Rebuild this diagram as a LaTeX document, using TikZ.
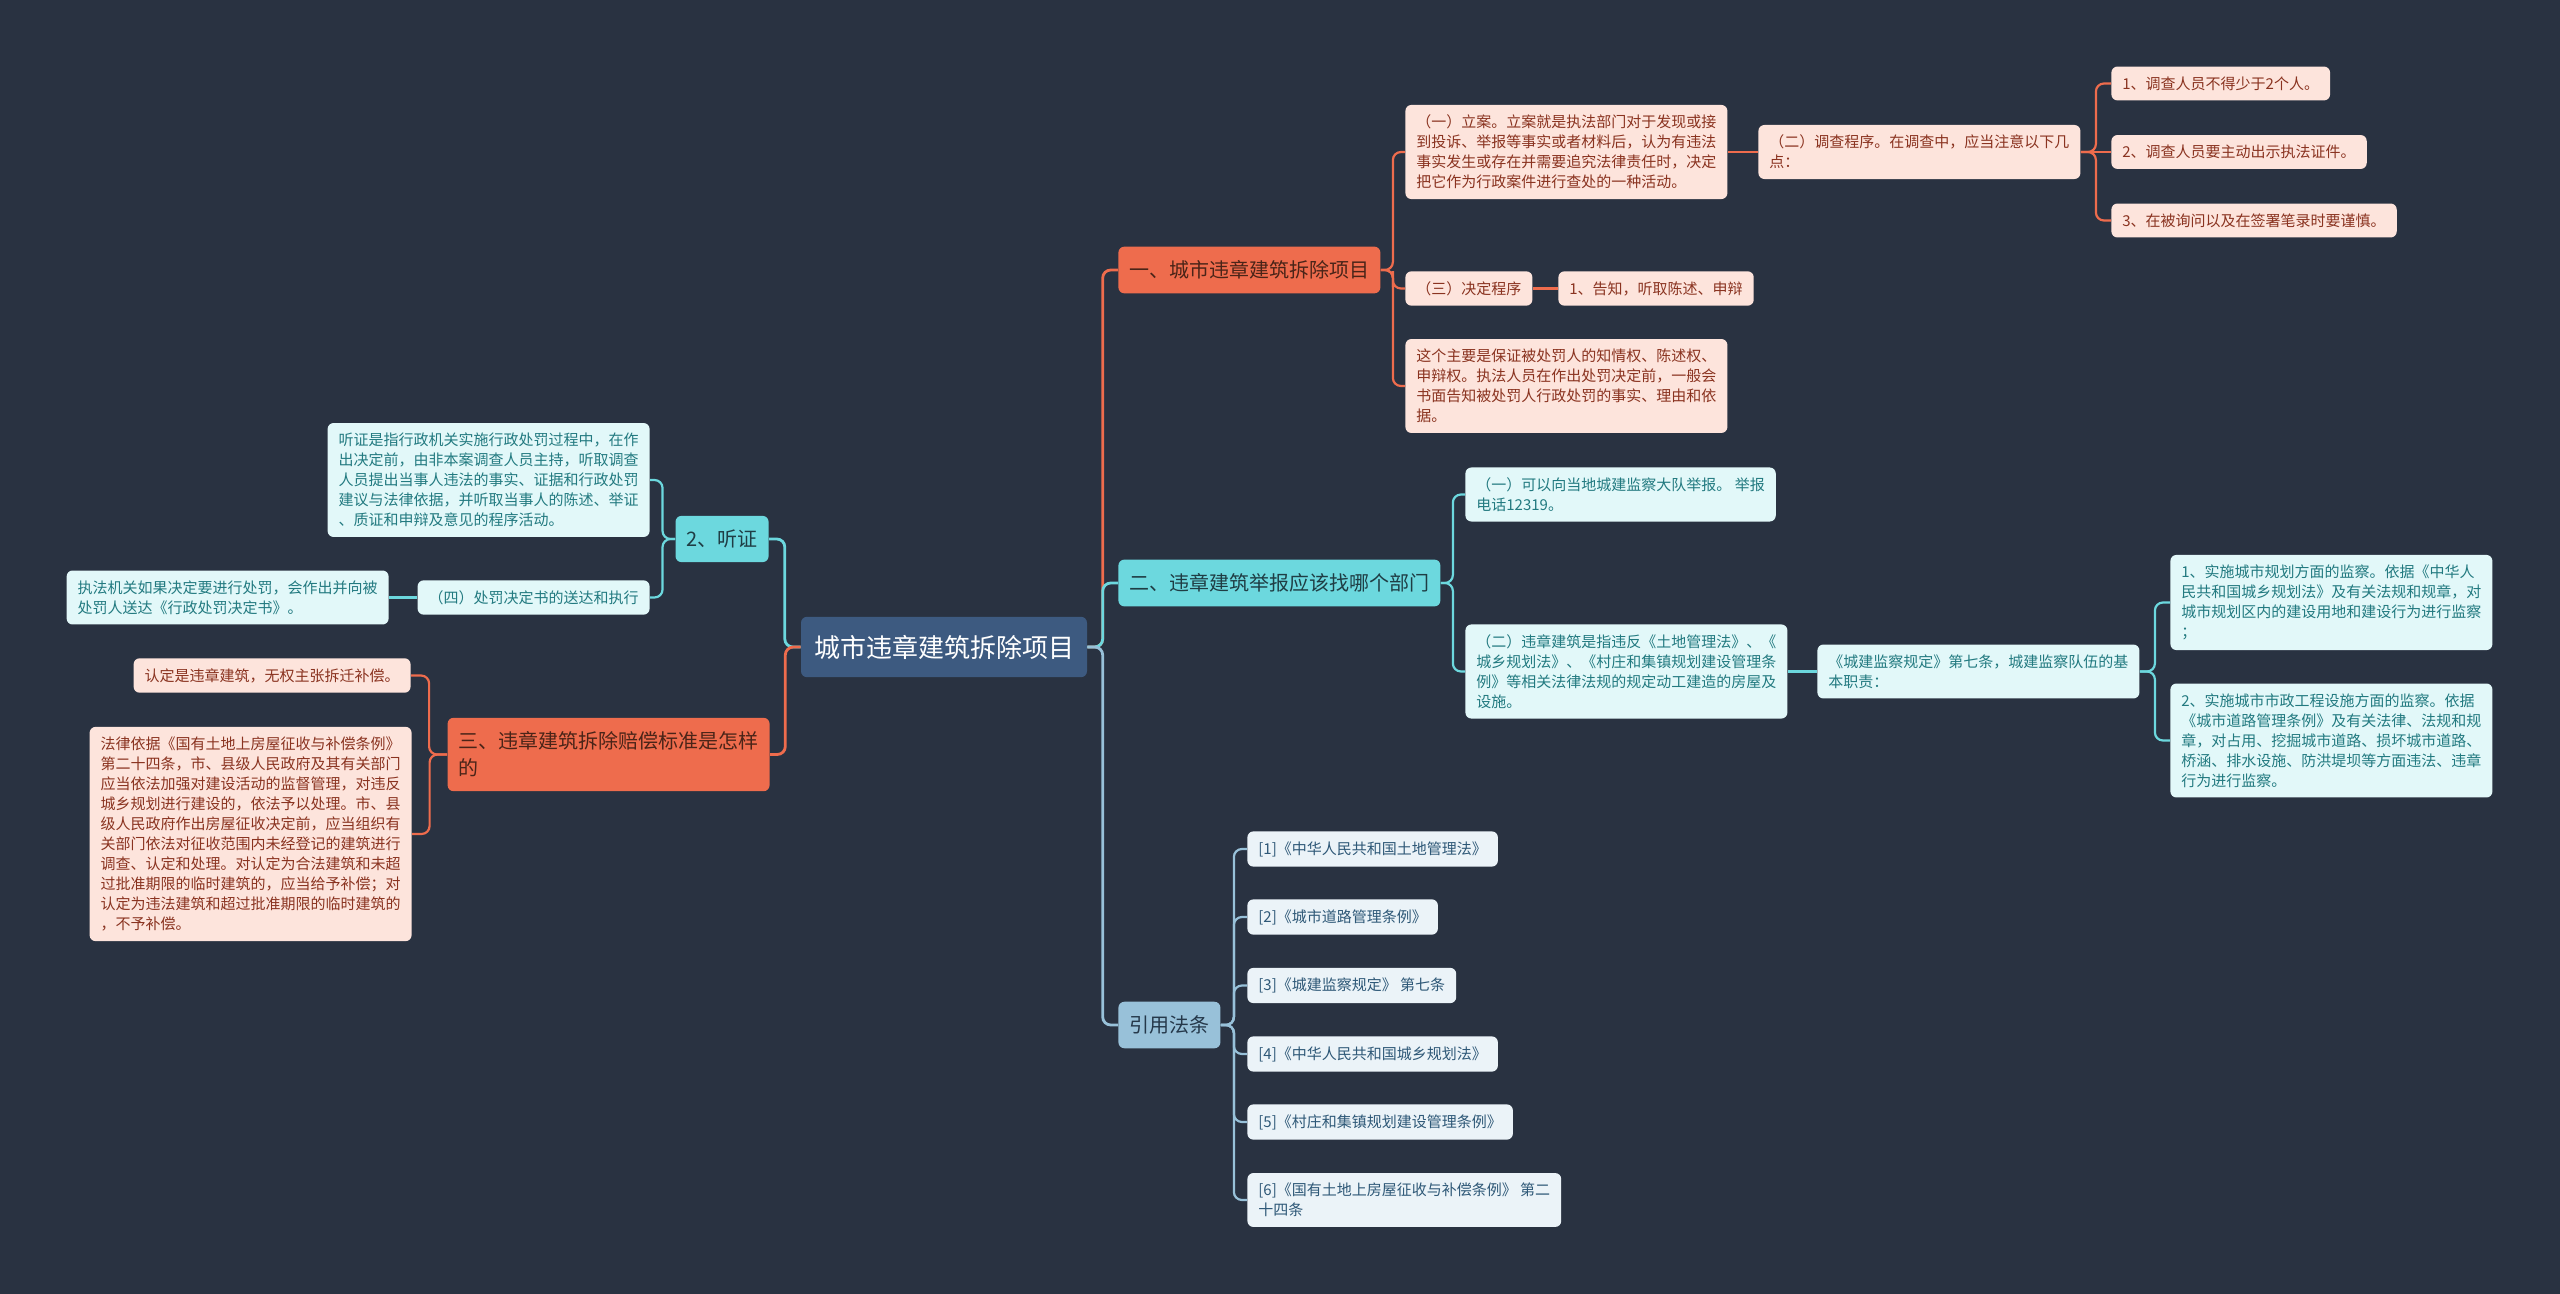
\documentclass[tikz,border=0pt]{standalone}
\usepackage{fontspec}
\setmainfont{Noto Sans CJK SC}
\usetikzlibrary{calc}
\definecolor{bgdark}{HTML}{293241}
\definecolor{rootblue}{HTML}{3D5A80}
\definecolor{sienna}{HTML}{EE6C4D}
\definecolor{siennatext}{HTML}{4A2418}
\definecolor{turq}{HTML}{6CD8DE}
\definecolor{turqtext}{HTML}{1F3D44}
\definecolor{paleblue}{HTML}{98C1D9}
\definecolor{paletext}{HTML}{25384A}
\definecolor{pinkfill}{HTML}{FDE4DC}
\definecolor{pinktext}{HTML}{8A3320}
\definecolor{cyanfill}{HTML}{E2F8F9}
\definecolor{cyantext}{HTML}{227A80}
\definecolor{bluefill}{HTML}{EBF3F8}
\definecolor{bluetext}{HTML}{2E5877}

\begin{document}
\begin{tikzpicture}[x=0.5pt,y=-0.5pt,
  every node/.style={rounded corners=3pt, align=left},
  rootbox/.style={fill=rootblue, text=white, font=\fontsize{13pt}{16pt}\selectfont, inner xsep=6.5pt, inner ysep=9pt},
  topbox/.style={font=\fontsize{10pt}{13.5pt}\selectfont, inner xsep=5.5pt, inner ysep=7pt},
  orangebox/.style={topbox, fill=sienna, text=siennatext},
  cyanbox/.style={topbox, fill=turq, text=turqtext},
  bluebox/.style={topbox, fill=paleblue, text=paletext},
  leaf/.style={font=\fontsize{7.5pt}{10pt}\selectfont, inner xsep=5.5pt, inner ysep=5pt},
  pinkleaf/.style={leaf, fill=pinkfill, text=pinktext},
  cyanleaf/.style={leaf, fill=cyanfill, text=cyantext},
  blueleaf/.style={leaf, fill=bluefill, text=bluetext},
  link/.style={line width=1.1pt, rounded corners=4pt},
  rootlink/.style={line width=1.4pt, rounded corners=4pt}]
\useasboundingbox (0,0) rectangle (2560,1294);
\fill[bgdark] (0,0) rectangle (2560,1294);

% main topic
\node[rootbox] (root) at (944,647) {城市违章建筑拆除项目};

% right branches
\node[orangebox, anchor=west] (A) at (1118,270) {一、城市违章建筑拆除项目};
\node[cyanbox, anchor=west] (B) at (1118,583) {二、违章建筑举报应该找哪个部门};
\node[bluebox, anchor=west] (C) at (1118,1025) {引用法条};

% left branches
\node[cyanbox, anchor=east] (D) at (769,539) {2、听证};
\node[orangebox, anchor=east] (E) at (770,754.5) {三、违章建筑拆除赔偿标准是怎样\\的};

% under A
\node[pinkleaf, anchor=west] (A1) at (1405,152) {（一）立案。立案就是执法部门对于发现或接\\到投诉、举报等事实或者材料后，认为有违法\\事实发生或存在并需要追究法律责任时，决定\\把它作为行政案件进行查处的一种活动。};
\node[pinkleaf, anchor=west] (A1a) at (1758,152) {（二）调查程序。在调查中，应当注意以下几\\点：};
\node[pinkleaf, anchor=west] (A1a1) at (2111,83.5) {1、调查人员不得少于2个人。};
\node[pinkleaf, anchor=west] (A1a2) at (2111,152) {2、调查人员要主动出示执法证件。};
\node[pinkleaf, anchor=west] (A1a3) at (2111,220.5) {3、在被询问以及在签署笔录时要谨慎。};
\node[pinkleaf, anchor=west] (A2) at (1405,288.5) {（三）决定程序};
\node[pinkleaf, anchor=west] (A2a) at (1558,288.5) {1、告知，听取陈述、申辩};
\node[pinkleaf, anchor=west] (A3) at (1405,386) {这个主要是保证被处罚人的知情权、陈述权、\\申辩权。执法人员在作出处罚决定前，一般会\\书面告知被处罚人行政处罚的事实、理由和依\\据。};

% under B
\node[cyanleaf, anchor=west] (B1) at (1465,494.5) {（一）可以向当地城建监察大队举报。 举报\\电话12319。};
\node[cyanleaf, anchor=west] (B2) at (1465,671.5) {（二）违章建筑是指违反《土地管理法》、《\\城乡规划法》、《村庄和集镇规划建设管理条\\例》等相关法律法规的规定动工建造的房屋及\\设施。};
\node[cyanleaf, anchor=west] (B2a) at (1817,671.5) {《城建监察规定》第七条，城建监察队伍的基\\本职责：};
\node[cyanleaf, anchor=west] (B2a1) at (2170,602.5) {1、实施城市规划方面的监察。依据《中华人\\民共和国城乡规划法》及有关法规和规章，对\\城市规划区内的建设用地和建设行为进行监察\\；};
\node[cyanleaf, anchor=west] (B2a2) at (2170,740.5) {2、实施城市市政工程设施方面的监察。依据\\《城市道路管理条例》及有关法律、法规和规\\章，对占用、挖掘城市道路、损坏城市道路、\\桥涵、排水设施、防洪堤坝等方面违法、违章\\行为进行监察。};

% under C
\node[blueleaf, anchor=west] (C1) at (1247,849) {[1]《中华人民共和国土地管理法》};
\node[blueleaf, anchor=west] (C2) at (1247,917) {[2]《城市道路管理条例》};
\node[blueleaf, anchor=west] (C3) at (1247,985.5) {[3]《城建监察规定》 第七条};
\node[blueleaf, anchor=west] (C4) at (1247,1054) {[4]《中华人民共和国城乡规划法》};
\node[blueleaf, anchor=west] (C5) at (1247,1122) {[5]《村庄和集镇规划建设管理条例》};
\node[blueleaf, anchor=west] (C6) at (1247,1200) {[6]《国有土地上房屋征收与补偿条例》 第二\\十四条};

% under D
\node[cyanleaf, anchor=east] (D1) at (650,480) {听证是指行政机关实施行政处罚过程中，在作\\出决定前，由非本案调查人员主持，听取调查\\人员提出当事人违法的事实、证据和行政处罚\\建议与法律依据，并听取当事人的陈述、举证\\、质证和申辩及意见的程序活动。};
\node[cyanleaf, anchor=east] (D2) at (650,597.5) {（四）处罚决定书的送达和执行};
\node[cyanleaf, anchor=east] (D2a) at (389,597.5) {执法机关如果决定要进行处罚，会作出并向被\\处罚人送达《行政处罚决定书》。};

% under E
\node[pinkleaf, anchor=east] (E1) at (411,675.5) {认定是违章建筑，无权主张拆迁补偿。};
\node[pinkleaf, anchor=east] (E2) at (412,834) {法律依据《国有土地上房屋征收与补偿条例》\\第二十四条，市、县级人民政府及其有关部门\\应当依法加强对建设活动的监督管理，对违反\\城乡规划进行建设的，依法予以处理。市、县\\级人民政府作出房屋征收决定前，应当组织有\\关部门依法对征收范围内未经登记的建筑进行\\调查、认定和处理。对认定为合法建筑和未超\\过批准期限的临时建筑的，应当给予补偿；对\\认定为违法建筑和超过批准期限的临时建筑的\\，不予补偿。};

% links from the main topic
\draw[rootlink, sienna] (root.east) -| ($(root.east)!0.5!(A.west)$) |- (A.west);
\draw[rootlink, turq] (root.east) -| ($(root.east)!0.5!(B.west)$) |- (B.west);
\draw[rootlink, paleblue] (root.east) -| ($(root.east)!0.5!(C.west)$) |- (C.west);
\draw[rootlink, turq] (root.west) -| ($(root.west)!0.5!(D.east)$) |- (D.east);
\draw[rootlink, sienna] (root.west) -| ($(root.west)!0.5!(E.east)$) |- (E.east);

% links in A
\draw[link, sienna] (A.east) -| ($(A.east)!0.5!(A1.west)$) |- (A1.west);
\draw[link, sienna] (A.east) -| ($(A.east)!0.5!(A2.west)$) |- (A2.west);
\draw[link, sienna] (A.east) -| ($(A.east)!0.5!(A3.west)$) |- (A3.west);
\draw[link, sienna] (A1.east) -- (A1a.west);
\draw[link, sienna] (A1a.east) -| ($(A1a.east)!0.5!(A1a1.west)$) |- (A1a1.west);
\draw[link, sienna] (A1a.east) -- (A1a2.west);
\draw[link, sienna] (A1a.east) -| ($(A1a.east)!0.5!(A1a3.west)$) |- (A1a3.west);
\draw[link, sienna] (A2.east) -- (A2a.west);

% links in B
\draw[link, turq] (B.east) -| ($(B.east)!0.5!(B1.west)$) |- (B1.west);
\draw[link, turq] (B.east) -| ($(B.east)!0.5!(B2.west)$) |- (B2.west);
\draw[link, turq] (B2.east) -- (B2a.west);
\draw[link, turq] (B2a.east) -| ($(B2a.east)!0.5!(B2a1.west)$) |- (B2a1.west);
\draw[link, turq] (B2a.east) -| ($(B2a.east)!0.5!(B2a2.west)$) |- (B2a2.west);

% links in C
\draw[link, paleblue] (C.east) -| ($(C.east)!0.5!(C1.west)$) |- (C1.west);
\draw[link, paleblue] (C.east) -| ($(C.east)!0.5!(C2.west)$) |- (C2.west);
\draw[link, paleblue] (C.east) -| ($(C.east)!0.5!(C3.west)$) |- (C3.west);
\draw[link, paleblue] (C.east) -| ($(C.east)!0.5!(C4.west)$) |- (C4.west);
\draw[link, paleblue] (C.east) -| ($(C.east)!0.5!(C5.west)$) |- (C5.west);
\draw[link, paleblue] (C.east) -| ($(C.east)!0.5!(C6.west)$) |- (C6.west);

% links in D and E
\draw[link, turq] (D.west) -| ($(D.west)!0.5!(D1.east)$) |- (D1.east);
\draw[link, turq] (D.west) -| ($(D.west)!0.5!(D2.east)$) |- (D2.east);
\draw[link, turq] (D2.west) -- (D2a.east);
\draw[link, sienna] (E.west) -| ($(E.west)!0.5!(E1.east)$) |- (E1.east);
\draw[link, sienna] (E.west) -| ($(E.west)!0.5!(E2.east)$) |- (E2.east);
\end{tikzpicture}
\end{document}
